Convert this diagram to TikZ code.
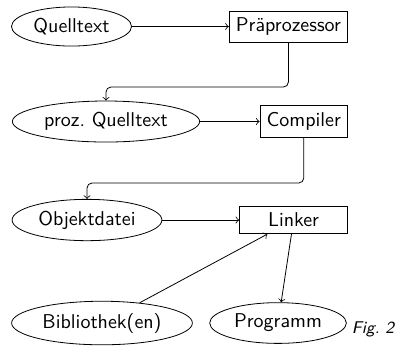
\documentclass[tikz,border=0pt]{standalone}
\usepackage{fontspec}
\usetikzlibrary{shapes.geometric}
\begin{document}
\begin{tikzpicture}[x=0.5pt,y=-0.5pt,
  font=\sffamily,
  ell/.style={ellipse,draw,inner xsep=2.2pt,inner ysep=2.7pt},
  box/.style={rectangle,draw,anchor=east},
  arr/.style={->},
  elbow/.style={->,rounded corners=2.5pt}]
\useasboundingbox (0,0) rectangle (399,345);
\node[ell] (q) at (71.5,26.5) {Quelltext};
\node[box] (pp) at (348,26.5) {Präprozessor};
\node[ell] (pq) at (106,121.5) {proz.\ Quelltext};
\node[box] (c) at (348,121.5) {Compiler};
\node[ell] (o) at (87,220) {Objektdatei};
\node[box,minimum width=54pt] (l) at (348,220) {Linker};
\node[ell] (b) at (102,323) {Bibliothek(en)};
\node[ell] (p) at (278,323) {Programm};
\node[font=\sffamily\itshape\fontsize{8.5}{10}\selectfont] (fig) at (373,329.5) {Fig.\ 2};
\coordinate (h1) at (0,87);
\coordinate (h2) at (0,183);
\draw[arr] (q) -- (pp);
\draw[elbow] (pp.south) -- (pp.south |- h1) -- (pq.north |- h1) -- (pq.north);
\draw[arr] (pq) -- (c);
\draw[elbow] (c.south) -- (c.south |- h2) -- (o.north |- h2) -- (o.north);
\draw[arr] (o) -- (l);
\draw[arr] (b) -- (l);
\draw[arr] (l) -- (p);
\end{tikzpicture}
\end{document}
